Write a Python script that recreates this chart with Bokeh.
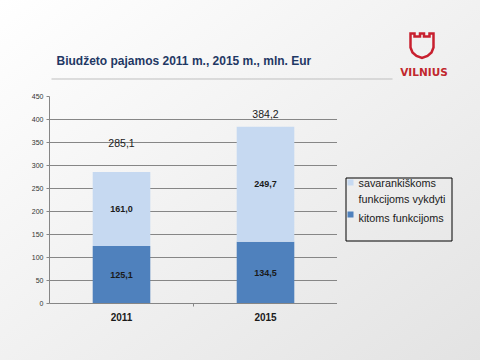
from bokeh.plotting import figure
from bokeh.layouts import column, row
from bokeh.models import (ColumnDataSource, Range1d, FactorRange, CategoricalAxis, FixedTicker)
from bokeh.core.properties import value
from bokeh.embed import file_html
from bokeh.resources import INLINE

# ---- data ----
years = ["2011", "2015"]
kitoms = [125.1, 134.5]            # kitoms funkcijoms
savarankiskoms = [161.0, 249.7]    # savarankiškoms funkcijoms vykdyti
totals = [285.1, 384.2]
y_ticks = [0, 50, 100, 150, 200, 250, 300, 350, 400, 450]

title_text = "Biudžeto pajamos 2011 m., 2015 m., mln. Eur"
legend_labels = ["savarankiškoms", "funkcijoms vykdyti", "kitoms funkcijoms"]

# ---- style ----
DARK = "#4F81BD"
LIGHT = "#C6D9F1"
PAGE_BG = "linear-gradient(to bottom right, #ffffff 0%, #f1f1f1 50%, #e3e3e3 100%)"
FONT = "Liberation Sans"
W, H = 480, 360
SPLIT = 88
FRAME_L, FRAME_R, FRAME_T, FRAME_B = 49, 337, 96, 303


def fmt(v):
    return f"{v:.1f}".replace(".", ",")


def clear(f):
    f.background_fill_color = None
    f.border_fill_color = None
    f.outline_line_color = None


# ================= header (page-pixel coordinates, y downwards) =================
hdr = figure(width=W, height=SPLIT, x_range=Range1d(0, W), y_range=Range1d(SPLIT, 0),
             output_backend="svg", toolbar_location=None, x_axis_location=None, y_axis_location=None,
             min_border=0, min_border_left=0, min_border_right=0, min_border_top=0, min_border_bottom=0)
clear(hdr)
hdr.xgrid.visible = False
hdr.ygrid.visible = False
hdr.text(x=[56], y=[60], text=[title_text], text_font=value(FONT), text_font_style="bold",
         text_font_size="12px", text_color="#1F3864", text_baseline="middle")
hdr.segment(x0=[51], y0=[78.5], x1=[392], y1=[78.5], line_color="#BFBFBF", line_width=1)
lx = [410, 414, 414, 419.5, 419.5, 423.5, 423.5, 429, 429, 433, 433, 431, 427, 421.5, 416, 412, 410]
ly = [33, 33, 36, 36, 33, 33, 36, 36, 33, 33, 47, 52, 55.5, 57.5, 55.5, 52, 47]
hdr.patch(lx, ly, fill_alpha=0, line_color="#C8202F", line_width=2.5, line_join="miter")
hdr.text(x=[423.5], y=[71], text=["VILNIUS"], text_font=value("DejaVu Sans"), text_font_style="bold",
         text_font_size="10.5px", text_color="#C1272D", text_align="center", text_baseline="middle")

# ================= chart =================
src = ColumnDataSource(dict(
    year=years,
    kitoms=kitoms,
    sav=savarankiskoms,
    kit_mid=[k / 2 for k in kitoms],
    sav_mid=[k + s / 2 for k, s in zip(kitoms, savarankiskoms)],
    kit_lbl=[fmt(v) for v in kitoms],
    sav_lbl=[fmt(v) for v in savarankiskoms],
    tot=totals,
    tot_lbl=[fmt(v) for v in totals],
    tot_off=[-29, -13],
))

p = figure(width=FRAME_R, height=H - SPLIT, x_range=FactorRange(*years, range_padding=0),
           y_range=Range1d(0, 450), output_backend="svg", toolbar_location=None,
           x_axis_location=None, y_axis_location="left",
           min_border_left=FRAME_L, min_border_right=0, min_border_top=FRAME_T - SPLIT,
           min_border_bottom=H - FRAME_B)
clear(p)

p.vbar_stack(["kitoms", "sav"], x="year", width=0.4, color=[DARK, LIGHT], line_color=None, source=src)

p.text(x="year", y="kit_mid", text="kit_lbl", source=src, text_align="center", text_baseline="middle",
       text_font=value(FONT), text_font_style="bold", text_font_size="9px", text_color="#1a1a1a")
p.text(x="year", y="sav_mid", text="sav_lbl", source=src, text_align="center", text_baseline="middle",
       text_font=value(FONT), text_font_style="bold", text_font_size="9px", text_color="#1a1a1a")
p.text(x="year", y="tot", y_offset="tot_off", text="tot_lbl", source=src, text_align="center",
       text_baseline="middle", text_font=value(FONT), text_font_size="10.5px", text_color="#1a1a1a")

ya = p.yaxis[0]
ya.ticker = FixedTicker(ticks=y_ticks)
ya.axis_line_color = "#868686"
ya.major_tick_line_color = "#868686"
ya.major_tick_out = 3
ya.major_tick_in = 0
ya.minor_tick_line_color = None
ya.major_label_text_font = FONT
ya.major_label_text_font_size = "7px"
ya.major_label_text_color = "#333333"
ya.major_label_standoff = 3

p.xgrid.grid_line_color = None
p.ygrid.grid_line_color = "#868686"
p.ygrid.ticker = FixedTicker(ticks=y_ticks)

# category-boundary ticks: a factor range whose factor centres sit on the category boundaries
bounds = [f"b{i}" for i in range(len(years) + 1)]
p.extra_x_ranges = {"bnd": FactorRange(*bounds, range_padding=-0.5, range_padding_units="absolute")}
bax = CategoricalAxis(x_range_name="bnd")
bax.axis_line_color = "#868686"
bax.major_tick_line_color = "#868686"
bax.major_tick_out = 3
bax.major_tick_in = 0
bax.major_label_text_font_size = "0px"
bax.major_label_text_alpha = 0
bax.major_label_standoff = 0
p.add_layout(bax, "below")

cax = CategoricalAxis()
cax.axis_line_color = None
cax.major_tick_line_color = None
cax.major_label_text_font = FONT
cax.major_label_text_font_style = "bold"
cax.major_label_text_font_size = "10px"
cax.major_label_text_color = "#1a1a1a"
cax.major_label_standoff = 0
p.add_layout(cax, "below")

# ================= legend (frame aligned with the chart frame, page-pixel coordinates) =================
lg = figure(width=W - FRAME_R, height=H - SPLIT, x_range=Range1d(FRAME_R, W), y_range=Range1d(FRAME_B, FRAME_T),
            output_backend="svg", toolbar_location=None, x_axis_location=None, y_axis_location=None,
            min_border_left=0, min_border_right=0, min_border_top=FRAME_T - SPLIT, min_border_bottom=H - FRAME_B)
clear(lg)
lg.xgrid.visible = False
lg.ygrid.visible = False
bx = [345.5, 451.5, 451.5, 345.5, 345.5]
by = [177.5, 177.5, 240.5, 240.5, 177.5]
lg.line(bx, by, line_color="black", line_width=1)
lg.quad(left=[347, 347], right=[353, 353], top=[179, 211], bottom=[185, 217], color=[LIGHT, DARK], line_color=None)
lg.text(x=[358, 358, 358], y=[182, 198, 217], text=legend_labels, text_font=value(FONT), text_font_size="10.8px",
        text_color="#1a1a1a", text_baseline="middle")

page = column(hdr, row(p, lg, spacing=0), spacing=0, styles={"background": PAGE_BG})
open("out.html", "w").write(file_html(page, INLINE))
